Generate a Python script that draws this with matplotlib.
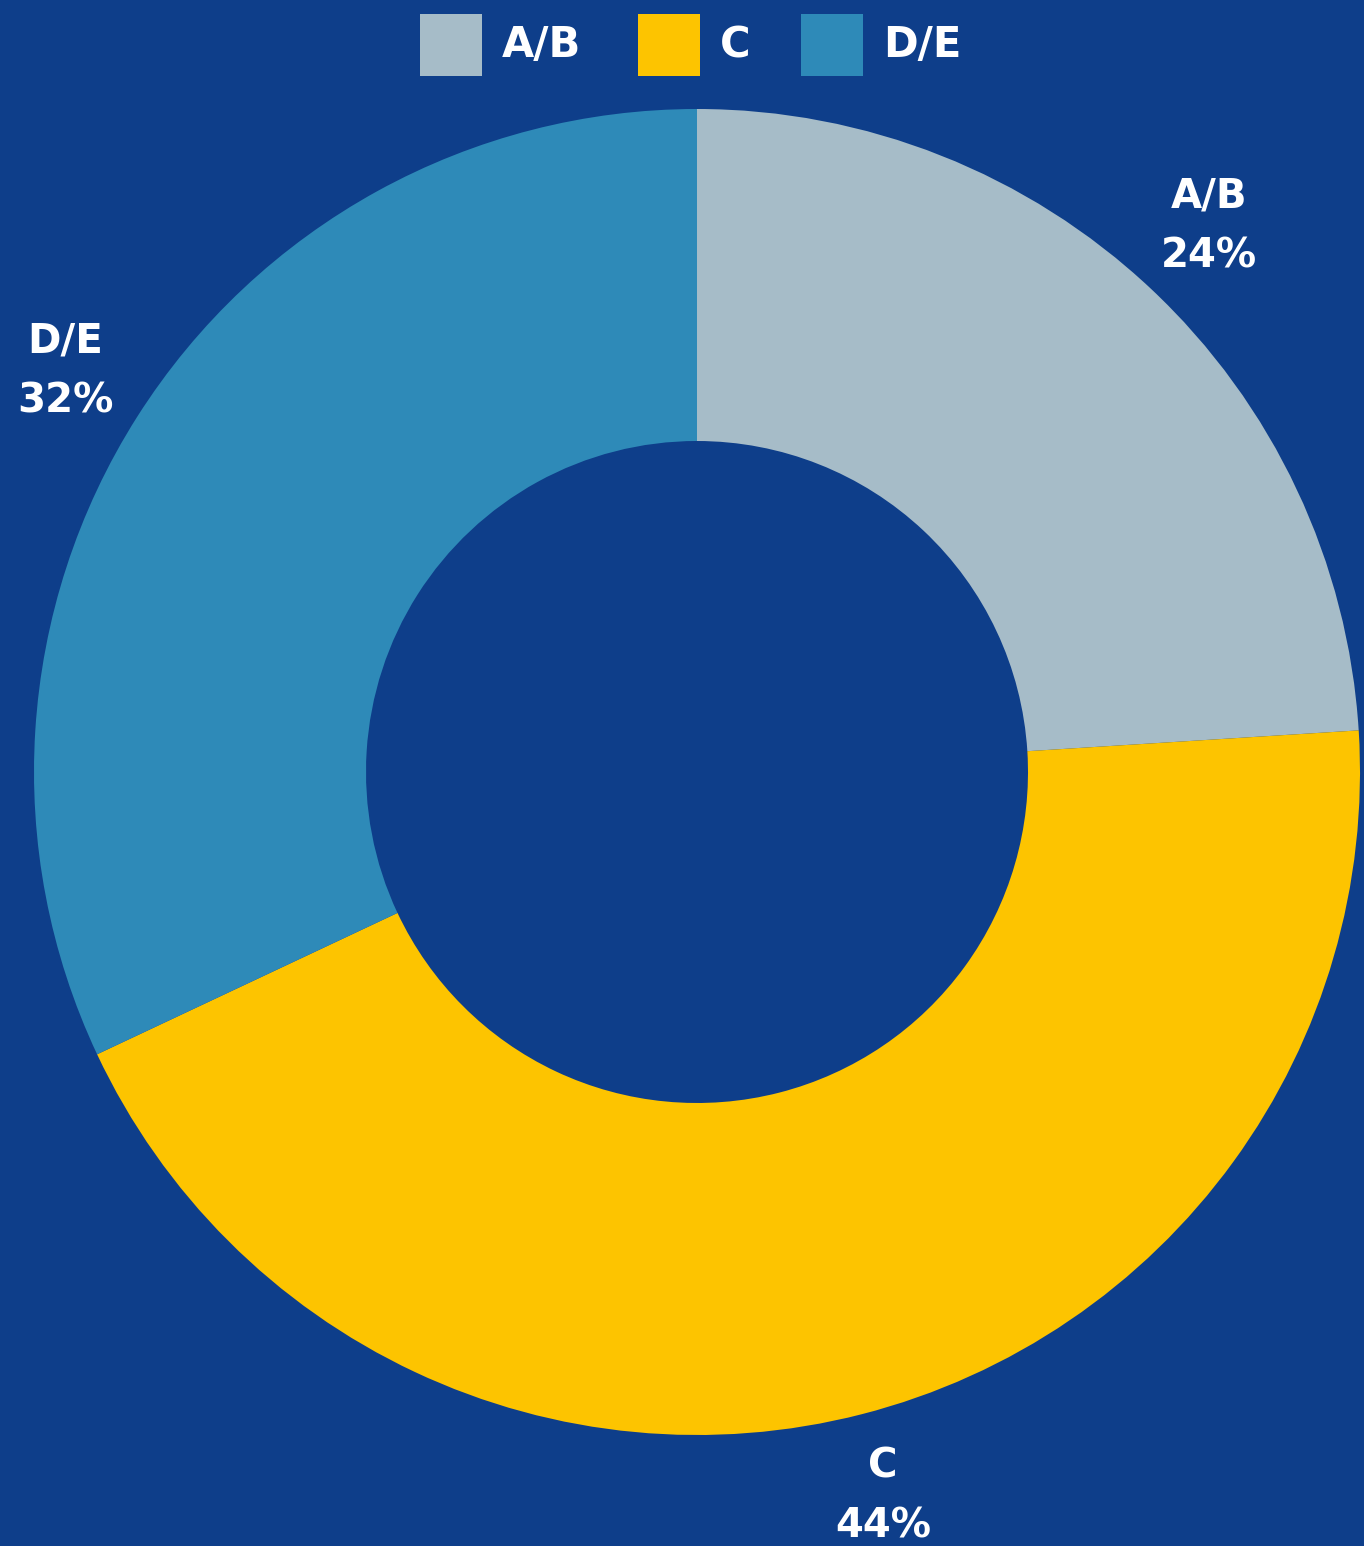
import matplotlib.pyplot as plt
import numpy as np
from matplotlib.patches import Rectangle

labels = ['A/B', 'C', 'D/E']
values = [24, 44, 32]
colors = ['#a6bcc8', '#fdc400', '#2e8ab8']
bg = '#0e3e8a'

plt.rcParams['font.family'] = ['DejaVu Sans']

W, H = 1364, 1546
fig = plt.figure(figsize=(W / 100, H / 100), dpi=100, facecolor=bg)
ax = fig.add_axes([0, 0, 1, 1])
ax.set_facecolor(bg)

cx, cy, r = 697, H - 772, 663
ax.pie(values, center=(cx, cy), radius=r, startangle=90, counterclock=False,
       colors=colors, wedgeprops=dict(width=332, linewidth=0), frame=True)
ax.set_xlim(0, W)
ax.set_ylim(0, H)
ax.set_aspect('equal')
ax.axis('off')

# labels outside the ring
total = sum(values)
start = 0
for lab, v in zip(labels, values):
    mid = (start + v / 2) / total * 2 * np.pi
    start += v
    lr = r * 1.128
    x = cx + lr * np.sin(mid)
    y = cy + lr * np.cos(mid)
    ax.text(x, y, f'{lab}\n{v}%', ha='center', va='center', color='white',
            fontsize=29, fontweight='bold', linespacing=1.65)

# legend across the top
sq_x = [420, 638, 801]
for lab, c, x0 in zip(labels, colors, sq_x):
    ax.add_patch(Rectangle((x0, H - 76), 62, 62, facecolor=c, edgecolor='none'))
    ax.text(x0 + 82, H - 45, lab, ha='left', va='center', color='white',
            fontsize=30, fontweight='bold')

fig.savefig('out.png', dpi=100, facecolor=bg)
